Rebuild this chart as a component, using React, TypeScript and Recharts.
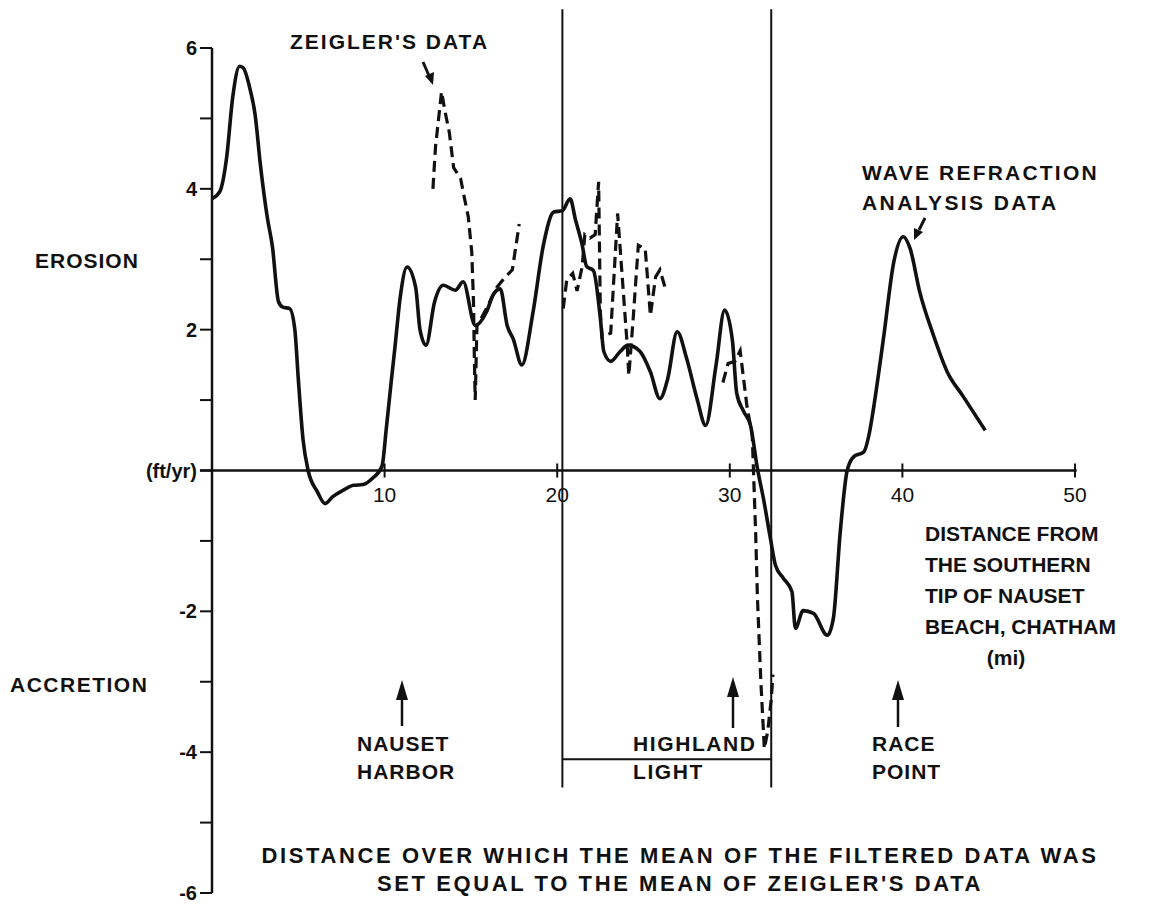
import React from 'react';
import { LineChart, Line, XAxis, YAxis, ReferenceLine } from 'recharts';

// filtered data (solid), miles from the southern tip of Nauset Beach
const filteredMiles = [
  0, 0.45, 0.85, 1.2, 1.6, 1.8, 2.2, 2.5, 2.8, 3.2, 3.5, 3.85, 4.1, 4.5, 4.8, 5.0, 5.27, 5.57,
  6.1, 6.55, 7.0, 7.6, 8.2, 8.75, 9.3, 9.85, 10.1, 10.4, 10.6, 10.9, 11.3, 11.8, 12.05, 12.4,
  12.9, 13.4, 14.1, 14.55, 15.25, 15.9, 16.3, 16.7, 17.1, 17.45, 17.95, 18.6, 19.2, 19.8, 20.3,
  20.75, 21.05, 21.45, 21.7, 22.1, 22.5, 22.7, 23.1, 23.65, 24.1, 24.8, 25.4, 25.95, 26.4,
  26.95, 27.5, 28.1, 28.6, 29.2, 29.7, 30.15, 30.4, 30.8, 31.2, 31.6, 31.95, 32.35, 32.65,
  33.1, 33.6, 33.8, 34.25, 34.85, 35.65, 36.0, 36.4, 36.8, 37.2, 37.75, 38.1, 38.3, 38.9,
  39.5, 40.05, 40.45, 41.0, 41.8, 42.6, 43.5, 44.8,
];
const filteredRate = [
  3.86, 3.96, 4.45, 5.3, 5.74, 5.72, 5.42, 5.05, 4.35, 3.6, 3.18, 2.4, 2.32, 2.3, 2.0, 1.3, 0.45, 0,
  -0.3, -0.47, -0.37, -0.28, -0.21, -0.2, -0.11, 0.06, 0.6, 1.3, 1.75, 2.45, 2.89, 2.6, 2.0, 1.78,
  2.4, 2.63, 2.56, 2.68, 2.06, 2.25, 2.5, 2.58, 2.06, 1.87, 1.5, 2.25, 3.2, 3.67, 3.69,
  3.86, 3.57, 3.2, 2.9, 2.84, 2.16, 1.69, 1.55, 1.69, 1.78, 1.69, 1.4, 1.02, 1.3,
  1.97, 1.59, 1.02, 0.64, 1.49, 2.28, 1.85, 1.1, 0.84, 0.64, 0.03, -0.4, -0.96, -1.35,
  -1.53, -1.72, -2.24, -1.99, -2.03, -2.34, -2.1, -0.87, 0, 0.2, 0.26, 0.55, 0.84, 1.87,
  2.96, 3.32, 3.15, 2.54, 1.92, 1.4, 1.06, 0.57,
];

// Zeigler's data (dashed), three stretches
const zeiglerMilesA = [12.8, 12.95, 13.3, 13.5, 13.75, 14.0, 14.4, 14.6, 14.85, 15.05, 15.15, 15.2, 15.25, 15.35, 15.9, 16.5, 17.0, 17.4, 17.8];
const zeiglerRateA = [4.0, 4.6, 5.38, 5.1, 4.8, 4.3, 4.15, 3.9, 3.6, 3.1, 2.4, 1.6, 1.0, 2.05, 2.3, 2.6, 2.75, 2.85, 3.5];
const zeiglerMilesB = [20.35, 20.55, 20.9, 21.15, 21.45, 21.6, 21.9, 22.2, 22.4, 22.5, 22.6, 23.1, 23.5, 24.05, 24.15, 24.4, 24.7, 25.1, 25.4, 25.7, 25.95, 26.25];
const zeiglerRateB = [2.3, 2.7, 2.8, 2.55, 2.9, 3.35, 3.3, 3.35, 4.1, 2.25, 1.9, 1.95, 3.65, 1.8, 1.35, 2.15, 3.2, 3.15, 2.2, 2.75, 2.85, 2.6];
const zeiglerMilesC = [29.6, 29.9, 30.3, 30.6, 30.8, 31.0, 31.3, 31.4, 31.5, 31.6, 31.8, 32.0, 32.2, 32.4, 32.5];
const zeiglerRateC = [1.25, 1.52, 1.55, 1.7, 1.3, 0.9, 0.5, -0.2, -0.9, -1.8, -3.0, -3.95, -3.7, -3.25, -2.9];

const xTicks = [10, 20, 30, 40, 50];
const yTicks = [-6, -5, -4, -3, -2, -1, 0, 1, 2, 3, 4, 5, 6];
// span where the filtered mean was matched to Zeigler's mean
const matchSpan = [20.3, 32.4];
const matchBracketRate = -4.1;
const matchLineTop = 6.55;
const matchLineBottom = -4.5;

const toPoints = (miles: number[], rate: number[]) => miles.map((mi, i) => ({ mi, v: rate[i] }));

const filtered = toPoints(filteredMiles, filteredRate);
const zeiglerA = toPoints(zeiglerMilesA, zeiglerRateA);
const zeiglerB = toPoints(zeiglerMilesB, zeiglerRateB);
const zeiglerC = toPoints(zeiglerMilesC, zeiglerRateC);

const FONT = '"Liberation Sans", Arial, Helvetica, sans-serif';
const INK = '#111';

const textStyle: React.CSSProperties = { fontFamily: FONT, fontWeight: 700, fontSize: 21, fill: INK };
const spaced = (ls: number): React.CSSProperties => ({ ...textStyle, letterSpacing: ls });

export default function App() {
  return (
    <div style={{ position: 'absolute', left: 0, top: 0, width: 1155, height: 912, background: '#fff' }}>
      <LineChart width={1155} height={912} margin={{ top: 48, right: 80, bottom: 19, left: 152 }}>
        <XAxis type="number" dataKey="mi" domain={[0, 50]} hide allowDataOverflow />
        <YAxis
          type="number"
          domain={[-6, 6]}
          ticks={yTicks}
          interval={0}
          width={60}
          tickSize={12}
          tickMargin={3}
          axisLine={{ stroke: INK, strokeWidth: 2.5 }}
          tickLine={{ stroke: INK, strokeWidth: 2 }}
          tick={{ fill: INK, fontSize: 20, fontWeight: 700, fontFamily: FONT }}
          tickFormatter={(v: number) => (v === 0 ? '(ft/yr)' : v % 2 === 0 ? String(v) : '')}
        />
        {/* x axis drawn through zero */}
        <ReferenceLine
          segment={[{ x: -0.7, y: 0 }, { x: 50.1, y: 0 }]}
          stroke={INK}
          strokeWidth={2.5}
          ifOverflow="visible"
        />
        {xTicks.map((t) => (
          <ReferenceLine
            key={`xt-${t}`}
            segment={[{ x: t, y: 0.1 }, { x: t, y: -0.1 }]}
            stroke={INK}
            strokeWidth={2}
            ifOverflow="visible"
            label={{ value: String(t), position: 'bottom', offset: 10, fill: INK, fontSize: 21, fontFamily: FONT }}
          />
        ))}
        {matchSpan.map((m) => (
          <ReferenceLine
            key={`ms-${m}`}
            segment={[{ x: m, y: matchLineTop }, { x: m, y: matchLineBottom }]}
            stroke={INK}
            strokeWidth={2}
            ifOverflow="visible"
          />
        ))}
        <ReferenceLine
          segment={[{ x: matchSpan[0], y: matchBracketRate }, { x: matchSpan[1], y: matchBracketRate }]}
          stroke={INK}
          strokeWidth={2}
          ifOverflow="visible"
        />
        <Line data={filtered} dataKey="v" type="monotone" stroke={INK} strokeWidth={3.6} dot={false} isAnimationActive={false} />
        {[zeiglerA, zeiglerB, zeiglerC].map((seg, i) => (
          <Line
            key={`z-${i}`}
            data={seg}
            dataKey="v"
            type="linear"
            stroke={INK}
            strokeWidth={3.2}
            strokeDasharray="11 6"
            dot={false}
            isAnimationActive={false}
          />
        ))}
      </LineChart>

      {/* annotations */}
      <svg width={1155} height={912} style={{ position: 'absolute', left: 0, top: 0, pointerEvents: 'none' }}>
        <text x={290} y={49} style={spaced(2)}>ZEIGLER'S DATA</text>
        <line x1={423} y1={62} x2={430} y2={78} stroke={INK} strokeWidth={3} />
        <polygon points="425,76 434,72 433,85" fill={INK} />

        <text x={35} y={268} style={spaced(1)}>EROSION</text>
        <text x={10} y={692} style={spaced(1.5)}>ACCRETION</text>

        <text x={862} y={180} style={spaced(2.2)}>WAVE REFRACTION</text>
        <text x={862} y={210} style={spaced(2.4)}>ANALYSIS DATA</text>
        <line x1={925} y1={218} x2={919} y2={230} stroke={INK} strokeWidth={3} />
        <polygon points="914,228 923,232 914,240" fill={INK} />

        <text x={925} y={541} style={textStyle}>DISTANCE FROM</text>
        <text x={925} y={572} style={textStyle}>THE SOUTHERN</text>
        <text x={925} y={603} style={textStyle}>TIP OF NAUSET</text>
        <text x={925} y={634} style={textStyle}>BEACH, CHATHAM</text>
        <text x={1006} y={665} style={{ ...textStyle, textAnchor: 'middle' }}>(mi)</text>

        <line x1={402} y1={726} x2={402} y2={695} stroke={INK} strokeWidth={2.5} />
        <polygon points="396,700 408,700 402,680" fill={INK} />
        <text x={357} y={751} style={spaced(1)}>NAUSET</text>
        <text x={357} y={779} style={spaced(1)}>HARBOR</text>

        <line x1={733} y1={728} x2={733} y2={692} stroke={INK} strokeWidth={2.5} />
        <polygon points="727,697 739,697 733,677" fill={INK} />
        <text x={633} y={751} style={spaced(1.6)}>HIGHLAND</text>
        <text x={633} y={779} style={spaced(1.6)}>LIGHT</text>

        <line x1={898} y1={727} x2={898} y2={695} stroke={INK} strokeWidth={2.5} />
        <polygon points="892,700 904,700 898,680" fill={INK} />
        <text x={872} y={751} style={spaced(1)}>RACE</text>
        <text x={872} y={779} style={spaced(1)}>POINT</text>

        <text x={680} y={863} style={{ ...spaced(2.6), fontSize: 22, textAnchor: 'middle' }}>
          DISTANCE OVER WHICH THE MEAN OF THE FILTERED DATA WAS
        </text>
        <text x={680} y={891} style={{ ...spaced(2.6), fontSize: 22, textAnchor: 'middle' }}>
          SET EQUAL TO THE MEAN OF ZEIGLER'S DATA
        </text>
      </svg>
    </div>
  );
}
